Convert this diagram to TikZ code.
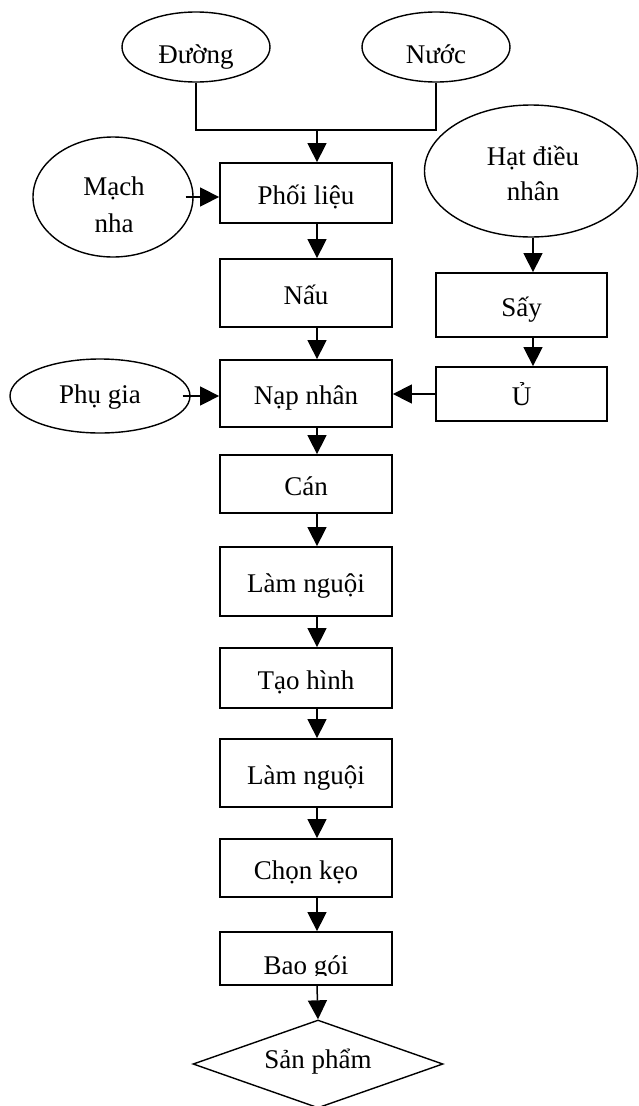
\documentclass[tikz,border=0pt]{standalone}
\usepackage{fontspec}
\setmainfont{Liberation Serif}
\usetikzlibrary{arrows.meta,shapes.geometric}
\begin{document}
\begin{tikzpicture}[x=1pt,y=-1pt,
  lbl/.style={font=\fontsize{27}{32}\selectfont, inner sep=0pt, anchor=base},
  proc/.style={draw, line width=1.8pt, minimum width=172pt, inner sep=0pt,
    font=\fontsize{27}{32}\selectfont, text height=22pt, text depth=0pt},
  oval/.style={draw, ellipse, line width=1.4pt, inner sep=0pt},
  arr/.style={line width=1.5pt, -{Triangle[length=19pt,width=19pt]}},
  conn/.style={line width=1.5pt}]
\useasboundingbox (0,0) rectangle (638,1106);

% inputs
\node[oval, minimum width=148pt, minimum height=70pt] (duong) at (196,47) {};
\node[lbl] (duongt) at (196,63) {Đường};
\node[oval, minimum width=148pt, minimum height=70pt] (nuoc) at (436,47) {};
\node[lbl] (nuoct) at (436,63) {Nước};
\node[oval, minimum width=160pt, minimum height=120pt] (mach) at (113,197) {};
\node[lbl] (mach1) at (114,195) {Mạch};
\node[lbl] (mach2) at (114,232) {nha};
\node[oval, minimum width=213pt, minimum height=132pt] (hat) at (531,171) {};
\node[lbl] (hat1) at (533,165) {Hạt điều};
\node[lbl] (hat2) at (533,200) {nhân};
\node[oval, minimum width=180pt, minimum height=74pt] (phu) at (100,396) {};
\node[lbl] (phut) at (100,403) {Phụ gia};

% main column
\node[proc, minimum height=60pt] (phoi) at (306,193) {Phối liệu};
\node[proc, minimum height=68pt] (nau) at (306,293) {Nấu};
\node[proc, minimum height=67pt] (nap) at (306,393.5) {Nạp nhân};
\node[proc, minimum height=58pt] (can) at (306,484) {Cán};
\node[proc, minimum height=69pt] (lam1) at (306,581.5) {Làm nguội};
\node[proc, minimum height=60pt] (tao) at (306,678) {Tạo hình};
\node[proc, minimum height=68pt] (lam2) at (306,773) {Làm nguội};
\node[proc, minimum height=58pt] (chon) at (306,868) {Chọn kẹo};
\node[proc, minimum height=53pt] (bao) at (306,958.5) {};
\begin{scope}
  \clip (220,932) rectangle (392,975);
  \node[lbl] (baot) at (306,974) {Bao gói};
\end{scope}
\node[draw, diamond, line width=1.4pt, inner sep=0pt, aspect=2.84,
  minimum width=250pt, minimum height=88pt] (sp) at (318,1064) {};
\node[lbl] (spt) at (318,1068) {Sản phẩm};

% right column
\node[proc, minimum width=171pt, minimum height=64pt] (say) at (521.5,305) {Sấy};
\node[proc, minimum width=171pt, minimum height=54pt] (u) at (521.5,394) {Ủ};

% connectors
\coordinate (j) at (317,130);
\coordinate (c) at (317,0);
\coordinate (rc) at (533,0);
\draw[conn] (duong.south) |- (j) -| (nuoc.south);
\draw[arr] (j) -- (j |- phoi.north);
\draw[arr] ([xshift=-8pt]mach.east) -- (mach.east -| phoi.west);
\draw[arr] (phoi.south -| c) -- (nau.north -| c);
\draw[arr] (nau.south -| c) -- (nap.north -| c);
\draw[arr] ([xshift=-8pt]phu.east) -- (phu.east -| nap.west);
\draw[arr] (u.west) -- (u.west -| nap.east);
\draw[arr] (nap.south -| c) -- (can.north -| c);
\draw[arr] (can.south -| c) -- (lam1.north -| c);
\draw[arr] (lam1.south -| c) -- (tao.north -| c);
\draw[arr] (tao.south -| c) -- (lam2.north -| c);
\draw[arr] (lam2.south -| c) -- (chon.north -| c);
\draw[arr] (chon.south -| c) -- (bao.north -| c);
\draw[arr] (bao.south -| c) -- (sp.north);
\draw[arr] (hat.south -| rc) -- (say.north -| rc);
\draw[arr] (say.south -| rc) -- (u.north -| rc);
\end{tikzpicture}
\end{document}
